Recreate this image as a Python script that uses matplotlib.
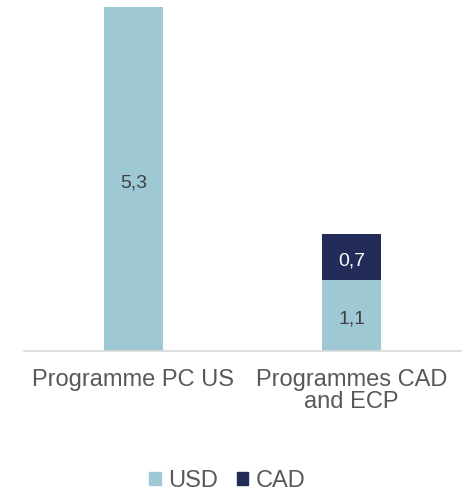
import matplotlib.pyplot as plt
from matplotlib.patches import Patch

plt.rcParams['font.family'] = ['Liberation Sans', 'DejaVu Sans']

# Data
categories = ["Programme PC US", "Programmes CAD\nand ECP"]
usd_values = [5.3, 1.1]
cad_values = [0.0, 0.7]
usd_labels = ["5,3", "1,1"]
cad_labels = ["", "0,7"]

usd_color = "#9dc8d4"
cad_color = "#232c58"
text_color = "#595959"

fig = plt.figure(figsize=(4.67, 4.94), dpi=100)
ax = fig.add_axes([24 / 467, 1 - 351 / 494, 437 / 467, 351 / 494])

x = range(len(categories))
bars_usd = ax.bar(x, usd_values, width=0.27, color=usd_color)
bars_cad = ax.bar(x, cad_values, width=0.27, bottom=usd_values, color=cad_color)


def label_bar(b, lab, color):
    # baseline a bit under the middle of the segment
    ax.annotate(lab, (b.get_x() + b.get_width() / 2, b.get_y() + b.get_height() / 2),
                xytext=(0, -6), textcoords='offset points',
                ha='center', va='baseline', fontsize=14, color=color)


for b, lab in zip(bars_usd, usd_labels):
    label_bar(b, lab, "#404040")
for b, lab in zip(bars_cad, cad_labels):
    if lab:
        label_bar(b, lab, "white")

ax.set_xlim(-0.5, 1.5)
ax.set_ylim(0, 5.3 * 351 / 344)
ax.set_xticks(list(x))
ax.set_xticklabels(categories, fontsize=17, color=text_color, linespacing=1.0)
ax.tick_params(axis='x', length=0, pad=13)
ax.set_yticks([])
for side in ['top', 'right', 'left']:
    ax.spines[side].set_visible(False)
ax.spines['bottom'].set_color("#d9d9d9")
ax.spines['bottom'].set_linewidth(1.2)

handles = [Patch(color=usd_color, label="USD"), Patch(color=cad_color, label="CAD")]
fig.legend(handles=handles, loc='center', bbox_to_anchor=(227 / 467, 1 - 481 / 494), ncol=2,
           frameon=False, fontsize=17, labelcolor=text_color, handlelength=0.5,
           handleheight=0.5, handletextpad=0.3, columnspacing=0.8)

fig.savefig("out.png", dpi=100)
